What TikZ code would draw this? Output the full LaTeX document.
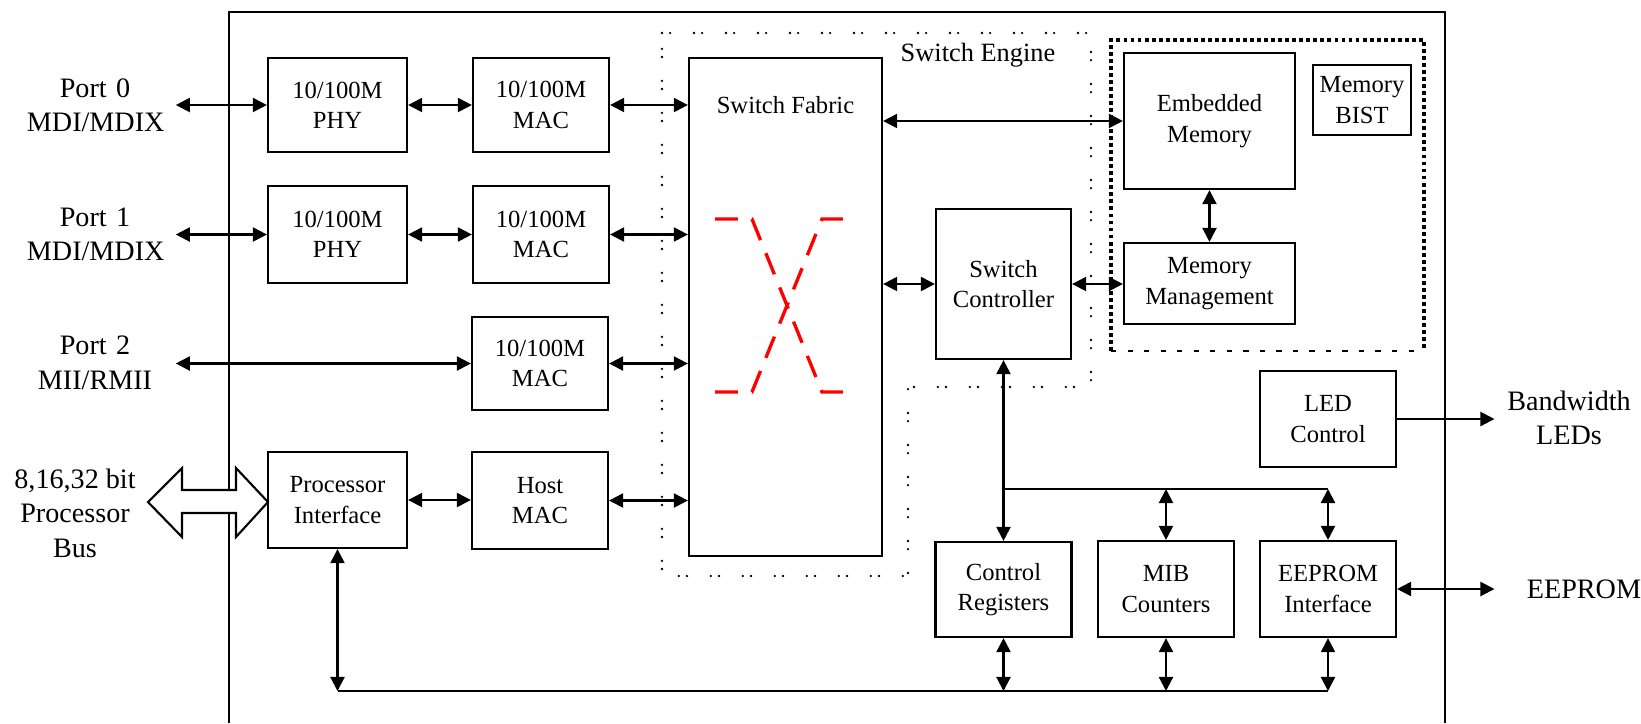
\documentclass[tikz,border=0pt]{standalone}
\usepackage{fontspec}
\setmainfont{Liberation Serif}
\usetikzlibrary{arrows.meta}
\usetikzlibrary{calc}

\begin{document}
\begin{tikzpicture}[x=0.01cm, y=-0.01cm, line width=0.6pt,
        >={Triangle[length=4pt,width=4pt]},
        blk/.style={draw, align=center, inner sep=0pt, minimum width=1.36cm, minimum height=0.95cm,
            font=\fontsize{7}{8.6}\selectfont},
        outlbl/.style={align=center, font=\fontsize{8}{9.8}\selectfont},
        inlbl/.style={font=\fontsize{7.5}{9}\selectfont},
        engine/.style={line width=0.75pt, line cap=round, dash pattern=on 0pt off 2.3pt on 0pt off 6.8pt},
        memdots/.style={line width=1pt, dash pattern=on 1.1pt off 0.9pt},
        memdash/.style={line width=0.7pt, dash pattern=on 1.5pt off 3.2pt},
        xcross/.style={red, line width=0.95pt, dash pattern=on 6.5pt off 4pt}]
                \useasboundingbox (0,0) rectangle (1641,723);
                % chip outline and regions
                \draw[line width=0.7pt] (229,723) -- (229,12) -- (1445,12) -- (1445,723);
                \draw[engine] (662,33) -- (1091,33) -- (1091,387) -- (908,387) -- (908,576) -- (662,576) -- cycle;
                \draw[memdots] (1111,351) -- (1111,40) -- (1424,40) -- (1424,351);
                \draw[memdash] (1111,351) -- (1424,351);
                \node[inlbl] (EngineLbl) at (978,55) {Switch Engine};
                % port side
                \node[outlbl, text width=1.36cm] (Port0) at (95,105) {Port 0\\MDI/MDIX};
                \node[outlbl, text width=1.36cm] (Port1) at (95,234.5) {Port 1\\MDI/MDIX};
                \node[outlbl, text width=1.36cm] (Port2) at (95,363) {Port 2\\MII/RMII};
                \node[outlbl] (ProcBus) at (75,513) {8,16,32 bit\\Processor\\Bus};
                \node[blk, minimum width=1.39cm, minimum height=0.94cm] (PHY0) at (337.5,105) {10/100M\\PHY};
                \node[blk, minimum width=1.39cm, minimum height=0.97cm] (PHY1) at (337.5,234.5) {10/100M\\PHY};
                \node[blk, minimum width=1.39cm, minimum height=0.96cm] (ProcIF) at (337.5,500) {Processor\\Interface};
                \node[blk, minimum height=0.94cm] (MAC0) at (541,105) {10/100M\\MAC};
                \node[blk, minimum height=0.97cm] (MAC1) at (541,234.5) {10/100M\\MAC};
                \node[blk, minimum height=0.93cm] (MAC2) at (540,363.5) {10/100M\\MAC};
                \node[blk, minimum height=0.97cm] (HostMAC) at (540,500.5) {Host\\MAC};
                \draw[fill=white] (148,502) -- (182,468) -- (182,490) -- (236,490) -- (236,468) -- (268,502)
                    -- (236,537) -- (236,513) -- (182,513) -- (182,537) -- cycle;
                % switch engine
                \node[blk, minimum width=1.93cm, minimum height=4.98cm] (Fabric) at (785.5,307) {};
                \node[blk, draw=none] (FabricLbl) at (785.5,105) {Switch Fabric};
                \draw[xcross] (715,219) -- (752,219) -- (822,392) -- (855,392);
                \draw[xcross] (715,392) -- (752,392) -- (822,219) -- (855,219);
                \node[blk, minimum width=1.35cm, minimum height=1.5cm] (SwCtrl) at (1003.5,284) {Switch\\Controller};
                \node[blk, minimum width=1.71cm, minimum height=1.36cm] (EmbMem) at (1209.5,121) {Embedded\\Memory};
                \node[blk, minimum width=1.71cm, minimum height=0.81cm] (MemMgmt) at (1209.5,283.5) {Memory\\Management};
                \node[blk, minimum width=0.98cm, minimum height=0.7cm] (MemBIST) at (1362,100) {Memory\\BIST};
                % lower right blocks
                \node[blk, minimum height=0.96cm] (LEDCtrl) at (1328,419) {LED\\Control};
                \node[blk] (CtrlReg) at (1003.5,589.5) {Control\\Registers};
                \node[blk, minimum height=0.96cm] (MIBCnt) at (1166,589) {MIB\\Counters};
                \node[blk, minimum height=0.96cm] (EEPROMIF) at (1328,589) {EEPROM\\Interface};
                \node[outlbl] (BwLEDs) at (1569,418) {Bandwidth\\LEDs};
                \node[outlbl] (EEPROM) at (1584,589) {EEPROM};
                \coordinate (BusTop) at (1003.5,489);
                \coordinate (BusBot) at (337.5,691);
                % data paths
                \draw[<->] (Port0) -- (PHY0);
                \draw[<->] (PHY0) -- (MAC0);
                \draw[<->] (MAC0) -- (MAC0 -| Fabric.west);
                \draw[<->] (Port1) -- (PHY1);
                \draw[<->] (PHY1) -- (MAC1);
                \draw[<->] (MAC1) -- (MAC1 -| Fabric.west);
                \draw[<->] (Port2.east |- MAC2) -- (MAC2);
                \draw[<->] (MAC2) -- (MAC2 -| Fabric.west);
                \draw[<->] (ProcIF) -- (ProcIF -| HostMAC.west);
                \draw[<->] (HostMAC) -- (HostMAC -| Fabric.west);
                \draw[<->] (EmbMem.west -| Fabric.east) -- (EmbMem);
                \draw[<->] (SwCtrl.west -| Fabric.east) -- (SwCtrl);
                \draw[<->] (SwCtrl.east) -- (SwCtrl.east -| MemMgmt.west);
                \draw[<->] (EmbMem) -- (MemMgmt);
                % control buses
                \draw[<->] (SwCtrl.south) -- (SwCtrl.south |- CtrlReg.north);
                \draw (BusTop) -- (BusTop -| EEPROMIF.north);
                \draw[<->] (BusTop -| MIBCnt.north) -- (MIBCnt.north);
                \draw[<->] (BusTop -| EEPROMIF.north) -- (EEPROMIF.north);
                \draw (BusBot) -- (BusBot -| EEPROMIF.south);
                \draw[<->] (ProcIF.south) -- (BusBot);
                \draw[<->] (CtrlReg.south) -- (BusBot -| CtrlReg.south);
                \draw[<->] (MIBCnt.south) -- (BusBot -| MIBCnt.south);
                \draw[<->] (EEPROMIF.south) -- (BusBot -| EEPROMIF.south);
                \draw[->] (LEDCtrl.east) -- (LEDCtrl.east -| BwLEDs.west);
                \draw[<->] (EEPROMIF.east) -- (EEPROMIF.east -| BwLEDs.west);
            \end{tikzpicture}
\end{document}
